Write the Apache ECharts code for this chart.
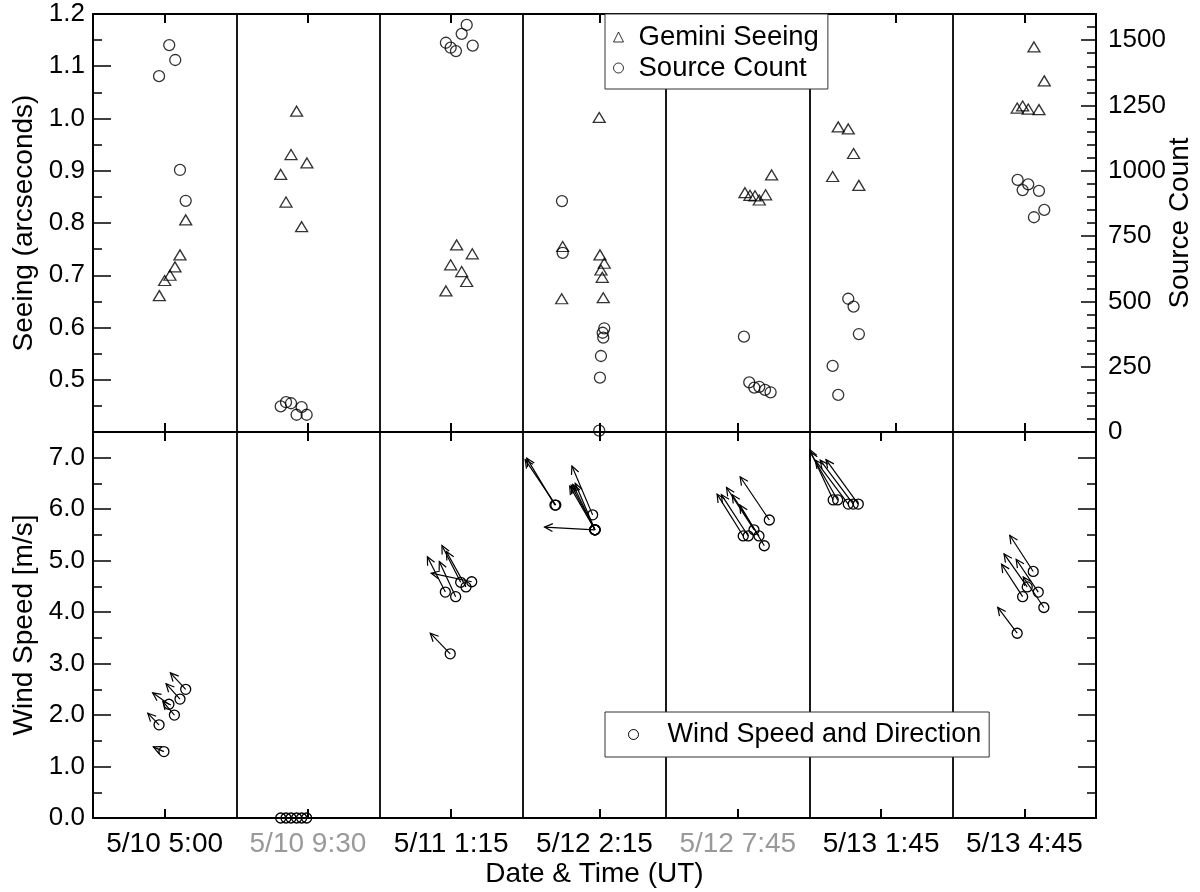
<!DOCTYPE html>
<html lang="en">
<head>
    <meta charset="UTF-8">
    <title>Seeing, source count and wind</title>
    <script src="https://cdn.jsdelivr.net/npm/echarts@6.0.0/dist/echarts.min.js"></script>
    <style>
        body { margin: 0; background: #fff; }
        #chart { width: 1200px; height: 892px; }
    </style>
</head>
<body>
<div id="chart"></div>

<script type="text/javascript">
    // x is "night index": segment i spans [i, i+1], points sit at their time inside it
    var categories = ['5/10 5:00', '5/10 9:30', '5/11 1:15', '5/12 2:15', '5/12 7:45', '5/13 1:45', '5/13 4:45'];
    var grayCategories = ['5/10 9:30', '5/12 7:45'];

    // [x, seeing in arcsec]
    var seeingPts = [
        [0.647, 0.806], [0.607, 0.739], [0.572, 0.716], [0.537, 0.700], [0.500, 0.690], [0.463, 0.661],
        [1.421, 1.014], [1.382, 0.931], [1.493, 0.915], [1.310, 0.893], [1.347, 0.840], [1.456, 0.793],
        [2.538, 0.758], [2.647, 0.741], [2.496, 0.720], [2.573, 0.707], [2.608, 0.688], [2.463, 0.670],
        [3.533, 1.002], [3.278, 0.755], [3.271, 0.655], [3.538, 0.739], [3.568, 0.723], [3.545, 0.710], [3.554, 0.696], [3.561, 0.657],
        [4.736, 0.892], [4.550, 0.858], [4.585, 0.853], [4.620, 0.852], [4.650, 0.844], [4.694, 0.854],
        [5.201, 0.984], [5.271, 0.980], [5.308, 0.933], [5.162, 0.889], [5.345, 0.872],
        [6.567, 1.137], [6.639, 1.072], [6.450, 1.020], [6.488, 1.024], [6.527, 1.018], [6.602, 1.017]
    ];

    // [x, number of sources]
    var countPts = [
        [0.532, 1481], [0.574, 1424], [0.461, 1362], [0.607, 1003], [0.647, 885],
        [1.310, 98], [1.347, 114], [1.382, 110], [1.456, 95], [1.421, 66], [1.491, 66],
        [2.608, 1558], [2.573, 1524], [2.650, 1479], [2.463, 1490], [2.496, 1471], [2.533, 1458],
        [3.273, 884], [3.278, 686], [3.568, 397], [3.557, 380], [3.561, 361], [3.545, 291], [3.538, 208], [3.533, 5],
        [4.543, 365], [4.580, 190], [4.615, 170], [4.650, 173], [4.690, 161], [4.729, 152],
        [5.271, 510], [5.308, 480], [5.345, 375], [5.162, 253], [5.201, 142],
        [6.453, 965], [6.488, 926], [6.527, 948], [6.602, 923], [6.639, 850], [6.567, 822]
    ];

    // [x, wind speed m/s, arrow direction in degrees counter-clockwise from east]
    var windPts = [
        [0.461, 1.81, 134], [0.495, 1.29, 156], [0.530, 2.21, 145], [0.568, 2.00, 130], [0.607, 2.31, 132], [0.647, 2.50, 133],
        [1.310, 0, 0], [1.347, 0, 0], [1.382, 0, 0], [1.421, 0, 0], [1.456, 0, 0], [1.491, 0, 0],
        [2.459, 4.39, 117], [2.531, 4.30, 115], [2.566, 4.58, 117], [2.603, 4.49, 119], [2.643, 4.59, 168], [2.493, 3.19, 134],
        [3.224, 6.08, 121], [3.230, 6.08, 124], [3.487, 5.89, 113], [3.503, 5.60, 177], [3.503, 5.60, 113],
        [3.503, 5.60, 116], [3.503, 5.60, 118], [3.503, 5.60, 120],
        [4.538, 5.48, 122], [4.573, 5.48, 123], [4.613, 5.60, 123], [4.648, 5.48, 123], [4.685, 5.29, 121], [4.720, 5.79, 124],
        [5.166, 6.18, 115], [5.197, 6.18, 120], [5.271, 6.10, 127], [5.306, 6.10, 127], [5.341, 6.10, 126],
        [6.562, 4.79, 123], [6.520, 4.49, 125], [6.488, 4.30, 123], [6.597, 4.39, 124], [6.636, 4.09, 124], [6.450, 3.59, 127]
    ];

    var FONT = "'Liberation Sans', Arial, Helvetica, sans-serif";
    var labelCenters = [0.5, 1.5, 2.5, 3.5, 4.5, 5.5, 6.5];
    var topPanelTicks = [0.5, 1.5, 2.5, 3.535, 4.5, 5.6, 6.5];
    var bottomPanelTicks = [0.5, 1.5, 2.5, 3.535, 4.5, 5.5, 6.5];

    var frameLine = {show: true, onZero: false, lineStyle: {color: '#000', width: 2}};
    var hollow = {color: 'rgba(0,0,0,0)', borderColor: '#000', borderWidth: 1.3};

    function xAxisFor(gridIndex, position, ticks, withLabels) {
        return {
            type: 'value',
            gridIndex: gridIndex,
            position: position,
            min: 0,
            max: 7,
            interval: 1,
            axisLine: frameLine,
            axisTick: {show: true, inside: true, length: 9, customValues: ticks, lineStyle: {color: '#000', width: 2}},
            axisLabel: withLabels ? {
                show: true,
                customValues: labelCenters,
                margin: 12,
                fontSize: 28,
                fontFamily: FONT,
                color: '#000',
                formatter: function (v) {
                    var c = categories[Math.floor(v)];
                    return grayCategories.indexOf(c) >= 0 ? '{g|' + c + '}' : c;
                },
                rich: {g: {color: '#999', fontSize: 28, fontFamily: FONT}}
            } : {show: false},
            splitLine: {show: false},
            name: withLabels ? 'Date & Time (UT)' : '',
            nameLocation: 'middle',
            nameGap: 42,
            nameTextStyle: {fontSize: 28, fontFamily: FONT, color: '#000'}
        };
    }

    // axis used only for the night separators
    function dividerAxis(gridIndex) {
        return {
            type: 'value',
            gridIndex: gridIndex,
            position: 'bottom',
            min: 0,
            max: 7,
            interval: 1,
            axisLine: {show: false},
            axisTick: {show: false},
            axisLabel: {show: false},
            splitLine: {show: true, lineStyle: {color: '#000', width: 1.8}}
        };
    }

    function renderWind(params, api) {
        var p = api.coord([api.value(0), api.value(1)]);
        var speed = api.value(1);
        var len = api.size([0, speed])[1] * 0.175;
        var a = api.value(2) * Math.PI / 180;
        var children = [{
            type: 'circle',
            shape: {cx: p[0], cy: p[1], r: 5},
            style: {fill: 'none', stroke: '#000', lineWidth: 1.3}
        }];
        if (len > 0) {
            var tx = p[0] + len * Math.cos(a);
            var ty = p[1] - len * Math.sin(a);
            var h = 9, spread = 0.45;
            var b1 = a + Math.PI - spread, b2 = a + Math.PI + spread;
            children.push({
                type: 'polyline',
                shape: {points: [[p[0], p[1]], [tx, ty]]},
                style: {stroke: '#000', lineWidth: 1.2, fill: 'none'}
            });
            children.push({
                type: 'polyline',
                shape: {points: [
                    [tx + h * Math.cos(b1), ty - h * Math.sin(b1)],
                    [tx, ty],
                    [tx + h * Math.cos(b2), ty - h * Math.sin(b2)]
                ]},
                style: {stroke: '#000', lineWidth: 1.2, fill: 'none'}
            });
        }
        return {type: 'group', children: children};
    }

    var myChart = echarts.init(document.getElementById('chart'), null, {renderer: 'canvas'});

    var option = {
        animation: false,
        backgroundColor: '#fff',
        textStyle: {fontFamily: FONT, color: '#000'},
        grid: [
            {left: 93, right: 104, top: 14, height: 418, outerBoundsMode: 'none'},
            {left: 93, right: 104, top: 432, height: 386, outerBoundsMode: 'none'}
        ],
        legend: [
            {
                left: 605,
                top: 14,
                orient: 'vertical',
                padding: [9, 9, 7, 8],
                itemGap: 3,
                itemWidth: 10,
                itemHeight: 10,
                borderColor: '#333',
                borderWidth: 1,
                borderRadius: 0,
                backgroundColor: '#fff',
                selectedMode: false,
                data: [
                    {name: 'Gemini Seeing', icon: 'triangle', itemStyle: {color: 'rgba(0,0,0,0)', borderColor: '#000', borderWidth: 1}},
                    {name: 'Source Count', icon: 'circle', itemStyle: {color: 'rgba(0,0,0,0)', borderColor: '#000', borderWidth: 1}}
                ],
                formatter: function (n) { return '{t|' + n + '}'; },
                textStyle: {
                    fontSize: 27.5, fontFamily: FONT, color: '#000',
                    rich: {t: {fontSize: 27.5, fontFamily: FONT, color: '#000', lineHeight: 30, padding: [0, 0, 0, 10]}}
                }
            },
            {
                left: 605,
                top: 712,
                orient: 'vertical',
                padding: [9, 8, 9, 23],
                itemWidth: 10,
                itemHeight: 10,
                borderColor: '#333',
                borderWidth: 1,
                borderRadius: 0,
                backgroundColor: '#fff',
                selectedMode: false,
                data: [
                    {name: 'Wind Speed and Direction', icon: 'circle', itemStyle: {color: 'rgba(0,0,0,0)', borderColor: '#000', borderWidth: 1}}
                ],
                formatter: function (n) { return '{t|' + n + '}'; },
                textStyle: {
                    fontSize: 27, fontFamily: FONT, color: '#000',
                    rich: {t: {fontSize: 27, fontFamily: FONT, color: '#000', lineHeight: 30, padding: [0, 0, 0, 24]}}
                }
            }
        ],
        xAxis: [
            xAxisFor(0, 'bottom', topPanelTicks, false),
            xAxisFor(0, 'top', topPanelTicks, false),
            xAxisFor(1, 'bottom', bottomPanelTicks, true),
            xAxisFor(1, 'top', bottomPanelTicks, false),
            dividerAxis(0),
            dividerAxis(1)
        ],
        yAxis: [
            {
                type: 'value',
                gridIndex: 0,
                position: 'left',
                min: 0.4,
                max: 1.2,
                interval: 0.1,
                axisLine: frameLine,
                axisTick: {show: true, inside: true, length: 18, lineStyle: {color: '#000', width: 1.5}},
                minorTick: {show: true, splitNumber: 2, length: 9, lineStyle: {color: '#000', width: 1.5}},
                axisLabel: {
                    showMinLabel: false, margin: 8, fontSize: 26, fontFamily: FONT, color: '#000',
                    formatter: function (v) { return v.toFixed(1); }
                },
                splitLine: {show: false},
                name: 'Seeing (arcseconds)',
                nameLocation: 'middle',
                nameRotate: 90,
                nameGap: 54,
                nameTextStyle: {fontSize: 28, fontFamily: FONT, color: '#000'}
            },
            {
                type: 'value',
                gridIndex: 0,
                position: 'right',
                min: 0,
                max: 1600,
                interval: 250,
                axisLine: frameLine,
                axisTick: {show: true, inside: true, length: 15, lineStyle: {color: '#000', width: 1.5}},
                minorTick: {show: true, splitNumber: 5, length: 9, lineStyle: {color: '#000', width: 1.5}},
                axisLabel: {
                    showMaxLabel: false, margin: 12, fontSize: 26, fontFamily: FONT, color: '#000',
                    formatter: function (v) { return String(v); }
                },
                splitLine: {show: false},
                name: 'Source Count',
                nameLocation: 'middle',
                nameRotate: 90,
                nameGap: 70,
                nameMoveOverlap: false,
                nameTextStyle: {fontSize: 28, fontFamily: FONT, color: '#000'}
            },
            {
                type: 'value',
                gridIndex: 1,
                position: 'left',
                min: 0,
                max: 7.5,
                interval: 1,
                axisLine: frameLine,
                axisTick: {show: true, inside: true, length: 18, lineStyle: {color: '#000', width: 1.5}},
                minorTick: {show: true, splitNumber: 2, length: 9, lineStyle: {color: '#000', width: 1.5}},
                axisLabel: {
                    showMaxLabel: false, margin: 8, fontSize: 26, fontFamily: FONT, color: '#000',
                    formatter: function (v) { return v.toFixed(1); }
                },
                splitLine: {show: false},
                name: 'Wind Speed [m/s]',
                nameLocation: 'middle',
                nameRotate: 90,
                nameGap: 54,
                nameTextStyle: {fontSize: 28, fontFamily: FONT, color: '#000'}
            },
            {
                type: 'value',
                gridIndex: 1,
                position: 'right',
                min: 0,
                max: 7.5,
                interval: 1,
                axisLine: frameLine,
                axisTick: {show: true, inside: true, length: 18, lineStyle: {color: '#000', width: 1.5}},
                minorTick: {show: true, splitNumber: 2, length: 9, lineStyle: {color: '#000', width: 1.5}},
                axisLabel: {show: false},
                splitLine: {show: false}
            }
        ],
        series: [
            {
                name: 'Gemini Seeing',
                type: 'scatter',
                xAxisIndex: 0,
                yAxisIndex: 0,
                symbol: 'triangle',
                symbolSize: [12, 10],
                itemStyle: hollow,
                silent: true,
                data: seeingPts
            },
            {
                name: 'Source Count',
                type: 'scatter',
                xAxisIndex: 0,
                yAxisIndex: 1,
                symbol: 'circle',
                symbolSize: 11,
                itemStyle: hollow,
                silent: true,
                data: countPts
            },
            {
                name: 'Wind Speed and Direction',
                type: 'custom',
                xAxisIndex: 2,
                yAxisIndex: 2,
                renderItem: renderWind,
                clip: false,
                silent: true,
                encode: {x: 0, y: 1},
                data: windPts
            }
        ]
    };

    myChart.setOption(option);
</script>
</body>
</html>
